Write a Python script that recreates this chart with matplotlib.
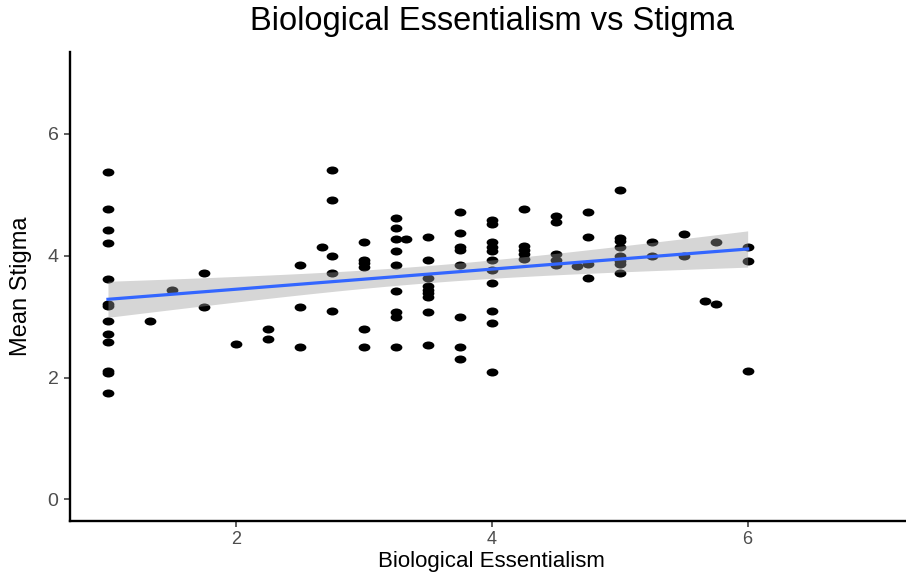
import numpy as np
import matplotlib
matplotlib.use("Agg")
import matplotlib.pyplot as plt
from matplotlib.path import Path
from matplotlib.transforms import Affine2D

plt.rcParams['font.family'] = ['Liberation Sans', 'DejaVu Sans']

# values, grouped by essentialism score
essentialism = (
    [1.0] * 13 + [1.33] + [1.5] + [1.75] * 2 + [2.0] + [2.25] * 2 + [2.5] * 3
    + [2.67] + [2.75] * 5 + [3.0] * 6 + [3.25] * 9 + [3.33] + [3.5] * 9
    + [3.75] * 8 + [4.0] * 11 + [4.25] * 5 + [4.5] * 5 + [4.67] + [4.75] * 4
    + [5.0] * 8 + [5.25] * 2 + [5.5] * 2 + [5.67] + [5.75] * 2 + [6.0] * 3
)
stigma = [
    5.38, 4.77, 4.43, 4.21, 3.62, 3.21, 3.17, 2.92, 2.72, 2.59, 2.10, 2.08, 1.75,
    2.92,
    3.43,
    3.72, 3.15,
    2.55,
    2.79, 2.64,
    3.84, 3.15, 2.50,
    4.15,
    5.41, 4.92, 4.00, 3.72, 3.10,
    4.23, 3.93, 3.88, 3.82, 2.80, 2.50,
    4.62, 4.46, 4.28, 4.07, 3.85, 3.42, 3.07, 3.00, 2.50,
    4.28,
    4.31, 3.93, 3.64, 3.50, 3.44, 3.39, 3.33, 3.07, 2.54,
    4.71, 4.38, 4.15, 4.10, 3.85, 3.00, 2.50, 2.31,
    4.58, 4.52, 4.23, 4.14, 4.07, 3.93, 3.77, 3.56, 3.10, 2.89, 2.09,
    4.77, 4.16, 4.10, 4.03, 3.95,
    4.66, 4.56, 4.02, 3.93, 3.84,
    3.83,
    4.72, 4.31, 3.86, 3.64,
    5.08, 4.29, 4.24, 4.14, 3.99, 3.91, 3.86, 3.71,
    4.23, 4.00,
    4.36, 4.00,
    3.26,
    4.22, 3.21,
    4.15, 3.91, 2.10,
]
x_ticks = [2, 4, 6]
y_ticks = [0, 2, 4, 6]

x = np.array(essentialism)
y = np.array(stigma)

# linear fit with 95% confidence band, like geom_smooth(method="lm")
slope, icpt = np.polyfit(x, y, 1)
n = len(x)
resid = y - (slope * x + icpt)
s = np.sqrt(np.sum(resid ** 2) / (n - 2))
sxx = np.sum((x - x.mean()) ** 2)
xs = np.linspace(x.min(), x.max(), 80)
fit = slope * xs + icpt
se = s * np.sqrt(1.0 / n + (xs - x.mean()) ** 2 / sxx)
t975 = 1.976

fig = plt.figure(figsize=(9.06, 5.74), dpi=100)
ax = fig.add_axes([0.0768, 0.0929, 0.932, 0.8171])

# the reference is stretched sideways, so the dots are flat ellipses
dot = Path.unit_circle().transformed(Affine2D().scale(1.0, 0.68))
ax.scatter(x, y, marker=dot, s=72, color='black', linewidths=0, zorder=2)
ax.fill_between(xs, fit - t975 * se, fit + t975 * se, color='#999999',
                alpha=0.4, linewidth=0, zorder=3)
ax.plot(xs, fit, color='#3366FF', lw=2.3, zorder=4)

ax.set_xlim(0.7, 7.3)
ax.set_ylim(-0.35, 7.35)
ax.set_xticks(x_ticks)
ax.set_yticks(y_ticks)
ax.tick_params(colors='#333333', labelcolor='#4D4D4D', labelsize=14,
               length=4, width=1.1, pad=4)
ax.tick_params(axis='x', labelsize=13, pad=3.5)

for side in ['top', 'right']:
    ax.spines[side].set_visible(False)
for side in ['left', 'bottom']:
    ax.spines[side].set_linewidth(1.7)
    ax.spines[side].set_color('black')

ax.set_title('Biological Essentialism vs Stigma', fontsize=23.5, y=1.029,
             va='baseline')
ax.set_xlabel('Biological Essentialism', fontsize=16, va='bottom')
ax.xaxis.set_label_coords(0.5, -0.1095)
ax.set_ylabel('Mean Stigma', fontsize=17, va='center')
ax.yaxis.set_label_coords(-0.0576, 0.5)

fig.savefig('out.png', dpi=100)
